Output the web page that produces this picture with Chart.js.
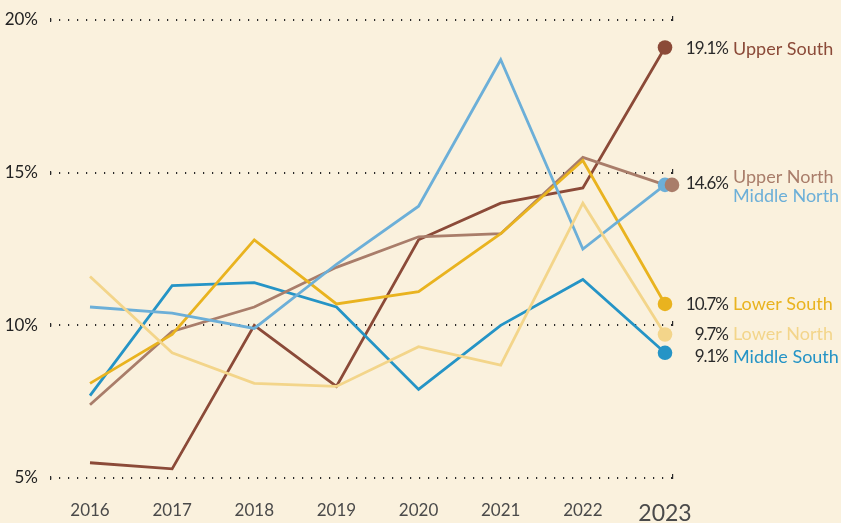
<!DOCTYPE html>
<html lang="en">
<head>
<meta charset="UTF-8">
<title>Regions</title>
<style>
  html, body { margin: 0; padding: 0; background: #faf1dd; }
  .chart-box { width: 841px; height: 523px; }
</style>
</head>
<body>
<div class="chart-box">
  <canvas id="myChart"></canvas>
</div>

<script src="https://cdn.jsdelivr.net/npm/chart.js"></script>
<script>
// data
const years = ['2016', '2017', '2018', '2019', '2020', '2021', '2022', '2023'];

const upperSouth  = [5.5, 5.3, 10.0, 8.0, 12.8, 14.0, 14.5, 19.1];
const upperNorth  = [7.4, 9.8, 10.6, 11.9, 12.9, 13.0, 15.5, 14.6];
const middleNorth = [10.6, 10.4, 9.9, 12.0, 13.9, 18.7, 12.5, 14.6];
const lowerSouth  = [8.1, 9.7, 12.8, 10.7, 11.1, 13.0, 15.4, 10.7];
const lowerNorth  = [11.6, 9.1, 8.1, 8.0, 9.3, 8.7, 14.0, 9.7];
const middleSouth = [7.7, 11.3, 11.4, 10.6, 7.9, 10.0, 11.5, 9.1];

const yTicks = [5, 10, 15, 20];

const FONT = 'Lato, "DejaVu Sans", sans-serif';

// order = drawing order (first is at the bottom)
const series = [
  { name: 'Lower North',  data: lowerNorth,  color: '#f3d58a', dy: 0 },
  { name: 'Middle North', data: middleNorth, color: '#6cafd8', dy: 11.5, noValue: true },
  { name: 'Lower South',  data: lowerSouth,  color: '#e9b31f', dy: 0.5 },
  { name: 'Upper North',  data: upperNorth,  color: '#a97d6a', dy: -7.5, dotShift: 7, valueDy: -1 },
  { name: 'Middle South', data: middleSouth, color: '#2594c6', dy: 4 },
  { name: 'Upper South',  data: upperSouth,  color: '#8b4a38', dy: 1.5 }
];

// dotted grid lines running past the plot on both sides, with little end ticks
const dottedGrid = {
  id: 'dottedGrid',
  beforeDatasetsDraw(chart) {
    const c = chart.ctx;
    const y = chart.scales.y;
    const x0 = 50, x1 = 672;
    c.save();
    c.fillStyle = '#2a2a2a';
    yTicks.forEach(v => {
      const py = Math.round(y.getPixelForValue(v));
      for (let px = x0; px <= x1; px += 9) {
        c.fillRect(px, py - 1, 1.2, 2);
      }
      c.fillRect(x0, py - 2, 1.2, 4);
      c.fillRect(x1, py - 4, 1.2, 5);
    });
    c.restore();
  }
};

// end dots and the labels at the right
const endLabels = {
  id: 'endLabels',
  afterDatasetsDraw(chart) {
    const c = chart.ctx;
    const last = years.length - 1;
    c.save();
    chart.data.datasets.forEach((ds, i) => {
      const s = series[i];
      const v = ds.data[last];
      const px = chart.scales.x.getPixelForValue(last) + (s.dotShift || 0);
      const py = chart.scales.y.getPixelForValue(v);
      c.beginPath();
      c.arc(px, py, 7.3, 0, Math.PI * 2);
      c.fillStyle = s.color;
      c.fill();
    });
    c.textBaseline = 'middle';
    chart.data.datasets.forEach((ds, i) => {
      const s = series[i];
      const v = ds.data[last];
      const py = chart.scales.y.getPixelForValue(v);
      if (!s.noValue) {
        c.font = '17px ' + FONT;
        c.letterSpacing = '-1px';
        c.textAlign = 'right';
        c.fillStyle = '#2a2a2a';
        c.fillText(v.toFixed(1) + '%', 728, py + (s.valueDy !== undefined ? s.valueDy : s.dy));
        c.letterSpacing = '0px';
      }
      c.font = '18px ' + FONT;
      c.textAlign = 'left';
      c.fillStyle = s.color;
      c.fillText(s.name, 733, py + s.dy);
    });
    c.restore();
  }
};

const ctx = document.getElementById('myChart');

const chart = new Chart(ctx, {
  type: 'line',
  data: {
    labels: years,
    datasets: series.map(s => ({
      label: s.name,
      data: s.data,
      borderColor: s.color,
      borderWidth: 2.8,
      pointRadius: 0,
      tension: 0,
      fill: false
    }))
  },
  options: {
    responsive: true,
    maintainAspectRatio: false,
    animation: false,
    layout: { padding: { top: 20, right: 176, bottom: 0, left: 0 } },
    plugins: {
      legend: { display: false },
      tooltip: { enabled: false }
    },
    scales: {
      x: {
        offset: false,
        grid: { display: false, drawTicks: false },
        border: { display: false },
        ticks: {
          padding: 22,
          maxRotation: 0,
          color: '#4a4a4a',
          font: c => ({ family: FONT, size: c.index === 7 ? 23 : 17 })
        },
        afterFit(scale) { scale.height = 45; }
      },
      y: {
        min: 5,
        max: 20,
        grid: { display: false, drawTicks: false },
        border: { display: false },
        afterBuildTicks(scale) { scale.ticks = yTicks.map(v => ({ value: v })); },
        ticks: {
          padding: 52,
          color: '#222',
          font: { family: FONT, size: 17 },
          callback: v => v + '%'
        },
        afterFit(scale) {
          scale.width = 90;
          scale.paddingTop = 0;
          scale.paddingBottom = 0;
        }
      }
    }
  },
  plugins: [dottedGrid, endLabels]
});
</script>
</body>
</html>
